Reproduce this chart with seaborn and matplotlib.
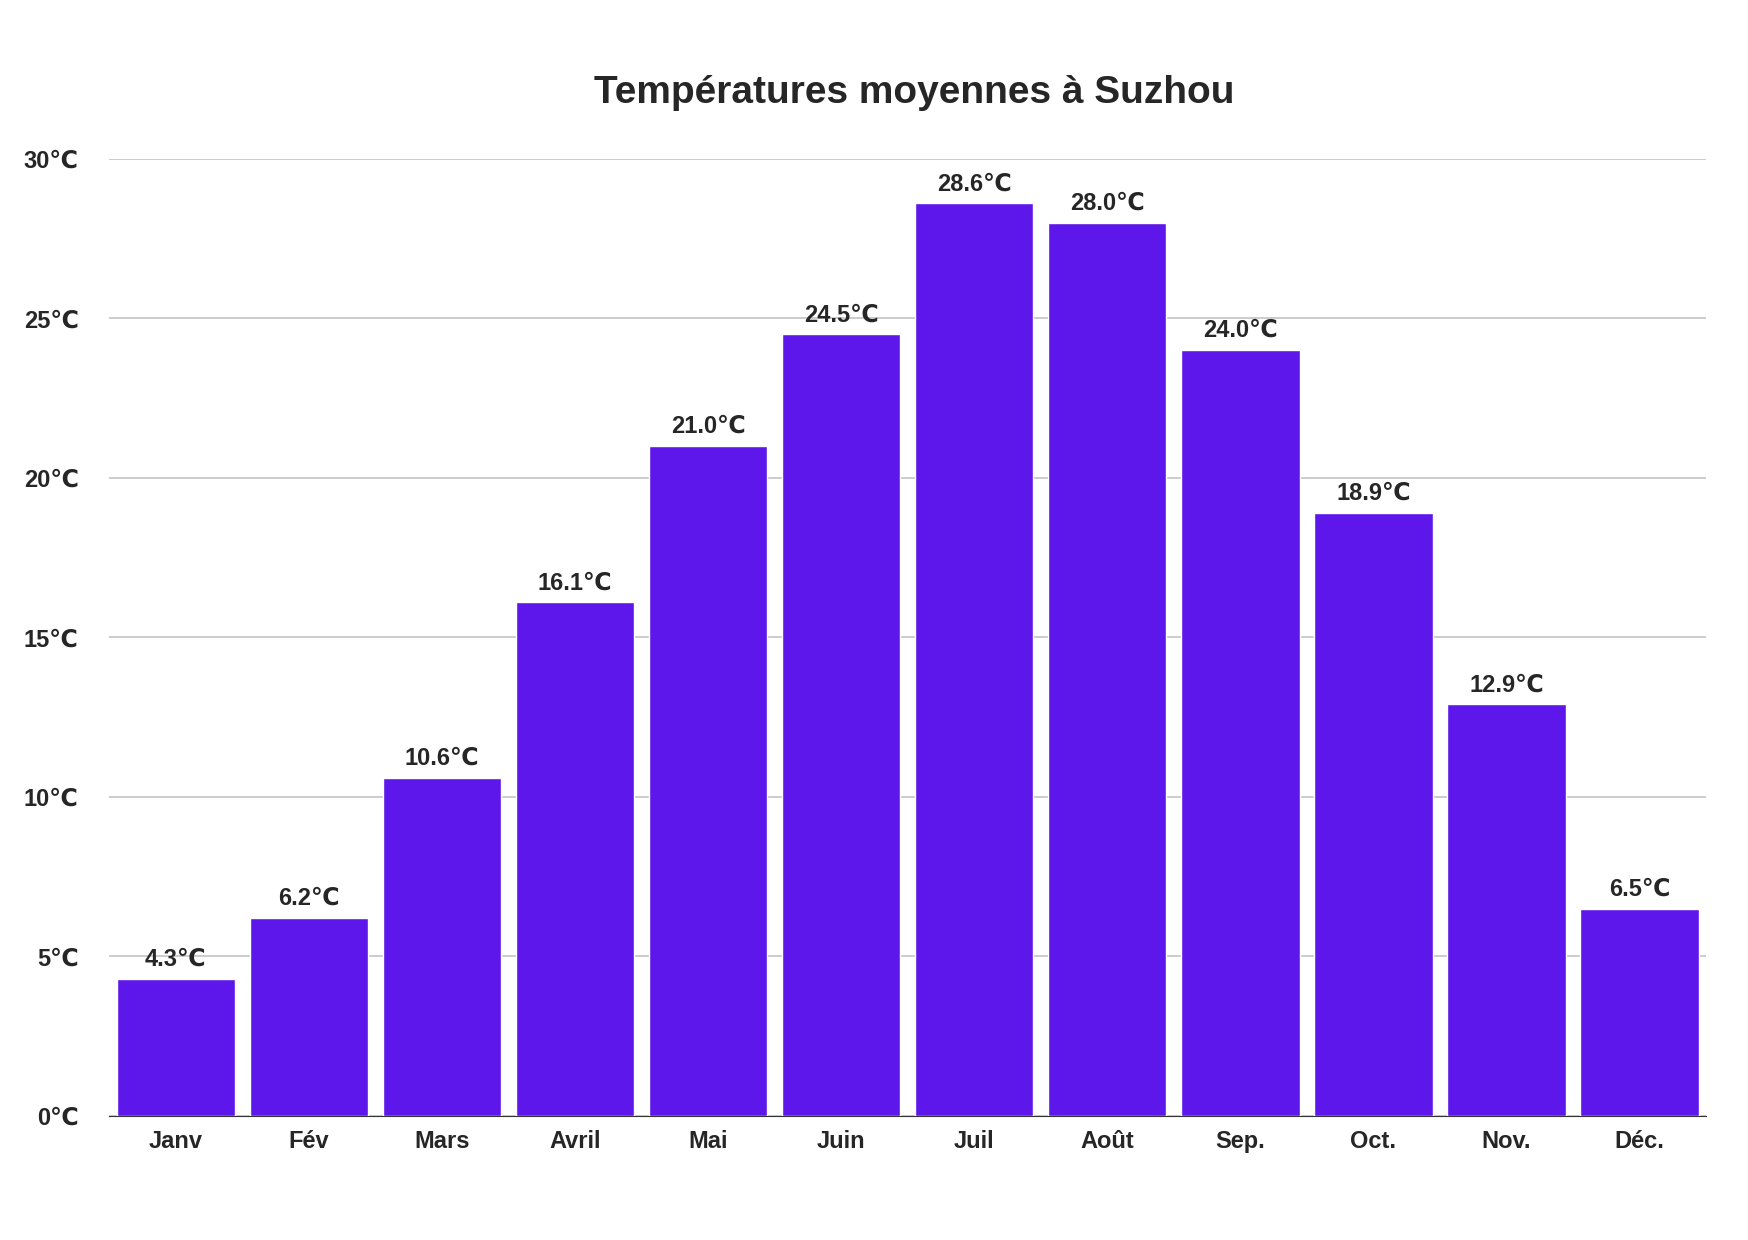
import matplotlib
matplotlib.use('Agg')
import matplotlib.pyplot as plt
import seaborn as sns
import pandas as pd

months = ['Janv', 'Fév', 'Mars', 'Avril', 'Mai', 'Juin', 'Juil', 'Août', 'Sep.', 'Oct.', 'Nov.', 'Déc.']
temps = [4.3, 6.2, 10.6, 16.1, 21.0, 24.5, 28.6, 28.0, 24.0, 18.9, 12.9, 6.5]
yticks = [0, 5, 10, 15, 20, 25, 30]

sns.set_style('white')
plt.rcParams['font.family'] = ['Liberation Sans', 'DejaVu Sans']
plt.rcParams['font.weight'] = 'bold'

df = pd.DataFrame({'mois': months, 'temp': temps})
fig = plt.figure(figsize=(17.48, 12.4), dpi=100)
ax = fig.add_axes([0.0625, 0.10, 0.9135, 0.772])
sns.barplot(data=df, x='mois', y='temp', color='#5E17EB', saturation=1, width=0.89, ax=ax, zorder=3)

for i, v in enumerate(temps):
    ax.text(i, v + 0.25, f'{v:.1f}℃', ha='center', va='bottom', fontsize=17, fontweight='bold')

ax.set_ylim(0, 30)
ax.set_xlim(-0.5, len(months) - 0.5)
ax.set_yticks(yticks)
ax.set_yticklabels([f'{t}℃' for t in yticks], fontsize=17, fontweight='bold')
ax.tick_params(axis='x', labelsize=17, length=0, pad=10)
ax.tick_params(axis='y', length=0, pad=22)
ax.grid(axis='y', color='#c8c8c8', linewidth=1.3, zorder=0)
for s in ['top', 'right', 'left']:
    ax.spines[s].set_visible(False)
ax.spines['bottom'].set_color('#333333')
ax.set_xlabel('')
ax.set_ylabel('')
fig.text(0.523, 0.925, 'Températures moyennes à Suzhou', ha='center', va='center',
         fontsize=28, fontweight='bold')
fig.savefig('out.png', dpi=100, facecolor='white')
